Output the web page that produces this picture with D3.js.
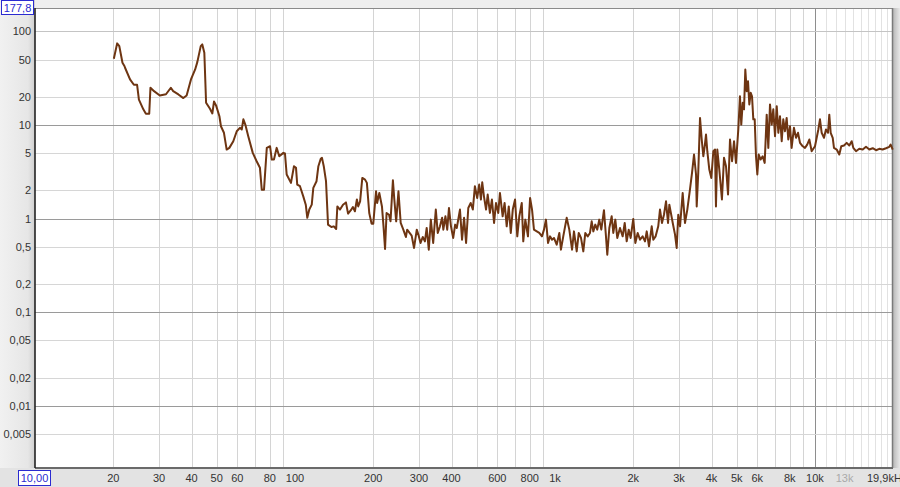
<!DOCTYPE html>
<html><head><meta charset="utf-8">
<script src="https://cdn.jsdelivr.net/npm/d3@7/dist/d3.min.js"></script>
<style>html,body{margin:0;padding:0;background:#ebebeb;overflow:hidden}svg{display:block}</style>
</head><body>
<svg id="c" width="900" height="487"></svg>
<script>
// ---- data ----
const freqHz = [
 20.1,20.7,21.1,21.7,22.1,22.2,23.2,24.0,24.7,25.1,26.1,26.7,27.5,27.8,28.7,30.2,31.9,33.3,34.0,35.6,
 37.2,38.3,39.8,41.3,42.1,43.4,44.0,44.8,45.5,47.1,48.1,48.8,49.7,51.2,51.9,53.3,54.6,55.9,57.9,59.7,
 61.4,62.4,63.3,64.4,66.1,68.8,71.2,73.3,74.5,76.0,77.9,80.2,81.4,83.0,85.0,87.0,90.2,91.5,92.9,96.5,
 99.1,100.9,102,104.5,107.6,
 110,111.5,113.5,116,117.6,121,123,125.6,127,129,
 131.6,134,138,141,144,145.5,149,153,157,160,
 164,167,170,173,175,178,181.5,186,189,193,
 197,200,205,207,211,216,219,222,225,230,
 233,238,241,245,250,255,261,267,270,275,
 281,287,294,299,304,310,316,321,327,333,
 340,348,354,361,368,372,379,385,391,398,
 406,413,419,431,439,447,455,464,
 474,483,492,502,511,519,525,533,543,551,
 562,572,583,593,605,614,629,640,652,664,
 676,688,702,716,729,745,755,769,787,802,
 816,830,851,870,891,907,923,940,957,974,
 991,1015,1039,1054,1076,1109,1135,1163,1183,1212,
 1234,1259,1285,1308,1336,1363,1384,1404,1429,1454,
 1480,1507,1543,1567,1589,1618,1652,1676,1706,1736,
 1778,1821,1854,1887,1921,1954,2000,2037,2080,2123,
 2173,2219,2253,2299,2355,2388,2438,2495,2534,2579,
 2625,2673,2721,2753,
 2837,2895,2938,2979,3026,3098,3162,3228,3304,3365,
 3425,3487,3508,3556,3612,3667,3719,3765,3809,3853,
 3922,3993,4064,4125,4160,4210,4285,4386,4467,4547,
 4629,4711,4797,4882,4967,5070,5145,5205,5272,5333,
 5395,5462,5525,5590,5659,5725,5791,5862,5930,6000,
 6075,6180,6291,6404,6520,6614,6714,6815,6912,7018,
 7125,7228,7335,7447,7551,7668,7780,7893,8015,8130,
 8300,8453,8603,8757,8970,9150,9333,9510,9710,10000,
 10300,10450,10610,10830,11020,11220,11350,11490,11700,11830,
 12120,12400,12620,12930,13240,13550,13840,14040,14380,14800,
 15260,15710,16180,16670,17170,17670,18200,18750,19310,19540,19910
];
const magnitude = [
 51.1,74.5,69.6,46.2,42.5,40.9,30.7,26.9,26.9,18.7,14.7,13.2,13.2,25.0,23.0,20.7,21.3,25.0,23.0,21.2,
 19.4,20.7,30.7,39.2,47.0,69.6,72.6,59.2,17.3,14.9,13.3,17.8,16.2,12.4,9.7,8.26,5.47,5.70,6.71,8.58,
 9.33,8.95,11.5,10.1,7.59,5.04,4.10,3.49,2.04,2.04,5.70,5.93,4.28,4.28,5.70,4.64,5.04,4.96,2.96,2.41,
 3.63,3.49,2.31,2.22,1.73,
 1.41,1.02,1.25,1.41,2.13,2.51,3.63,4.35,4.46,3.63,
 2.51,0.863,0.815,0.827,0.776,1.35,1.25,1.41,1.49,1.13,
 1.23,1.33,1.20,1.60,1.35,1.53,2.72,2.61,2.41,1.15,
 0.884,0.884,1.96,1.47,1.88,1.35,0.827,0.474,1.15,1.10,
 0.936,2.57,1.60,0.936,1.96,0.899,0.763,0.637,0.763,0.714,
 0.658,0.486,0.763,0.658,0.550,0.637,0.572,0.795,0.466,0.976,
 0.550,1.25,0.703,0.827,1.02,0.763,1.06,0.763,1.30,0.827,
 0.622,0.863,0.795,1.25,0.596,1.02,0.550,1.30,
 1.47,1.25,2.22,1.66,2.31,1.60,2.44,1.73,1.25,1.81,
 1.15,1.60,0.899,1.47,1.15,1.88,1.06,1.47,0.827,1.35,
 0.703,1.25,1.60,0.647,1.06,1.47,0.572,0.976,0.647,1.66,
 1.25,0.763,0.731,0.703,0.647,0.763,0.976,0.550,0.647,0.596,
 0.622,0.527,0.703,0.466,0.647,1.02,0.763,0.466,0.731,0.447,
 0.703,0.622,0.447,0.703,0.647,0.703,0.936,0.731,0.863,0.763,
 0.976,0.763,1.23,0.703,0.412,0.795,1.06,0.703,0.976,0.622,
 0.795,0.647,0.899,0.572,0.763,0.622,0.993,0.550,0.703,0.596,
 0.647,0.572,0.731,0.506,0.827,0.596,0.647,0.827,1.25,0.899,
 1.10,1.53,0.899,1.41,
 0.899,0.674,0.486,1.10,0.827,1.88,0.899,1.25,2.04,3.08,
 4.84,2.96,1.35,3.08,11.9,7.0,4.64,5.93,7.91,5.25,
 3.34,2.72,5.25,5.47,1.35,5.47,3.34,1.60,4.46,3.63,
 1.81,7.0,4.10,6.71,3.94,8.95,20.3,10.1,17.3,14.7,
 39.2,23.0,29.4,16.6,22.1,20.3,11.5,11.5,4.64,2.96,
 4.84,4.28,4.64,3.94,12.9,5.70,16.6,10.1,14.7,7.59,
 15.9,8.26,12.4,6.71,11.5,8.58,11.9,7.0,9.7,5.70,
 9.33,7.30,8.26,6.45,5.93,5.70,6.18,7.0,5.25,5.93,
 8.95,11.5,8.26,7.30,8.95,8.26,12.9,8.26,7.30,5.70,
 5.47,4.84,5.93,6.04,6.45,6.04,6.71,5.70,5.25,5.57,
 5.47,5.85,5.47,5.65,5.38,5.57,5.47,5.65,5.85,6.18,5.47
];
const xDomain = [10, 19953];
const yDomain = [0.00217, 177.8];
const yTicks = [100, 50, 20, 10, 5, 2, 1, 0.5, 0.2, 0.1, 0.05, 0.02, 0.01, 0.005];
const yTickLabels = ["100","50","20","10","5","2","1","0,5","0,2","0,1","0,05","0,02","0,01","0,005"];
const yMajor = [10, 1, 0.1, 0.01];
const xTickValues = [20,30,40,50,60,80,100,200,300,400,600,800,1000,2000,3000,4000,5000,6000,8000,10000,13000];
const xTickLabels = ["20","30","40","50","60","80","100","200","300","400","600","800","1k","2k","3k","4k","5k","6k","8k","10k","13k"];
const xMajor = [100, 1000, 10000];
const topLabel = "177,8";
const leftLabel = "10,00";
const rightLabel = "19,9kHz";

// ---- layout ----
const L = 35, R = 893, T = 8, B = 468;
const svg = d3.select("#c");
const x = d3.scaleLog().domain(xDomain).range([L, R]);
const y = d3.scaleLog().domain(yDomain).range([B, T]);

const defs = svg.append("defs");
const lg = defs.append("linearGradient").attr("id","lg").attr("x1","0").attr("x2","1").attr("y1","0").attr("y2","0");
lg.append("stop").attr("offset","0").attr("stop-color","#f1f1f1");
lg.append("stop").attr("offset","0.8").attr("stop-color","#e6e6e6");
lg.append("stop").attr("offset","1").attr("stop-color","#cfcfcf");
const rg = defs.append("linearGradient").attr("id","rg").attr("x1","0").attr("x2","1");
rg.append("stop").attr("offset","0").attr("stop-color","#b8b8b8");
rg.append("stop").attr("offset","1").attr("stop-color","#e8e8e8");

svg.append("rect").attr("x",0).attr("y",0).attr("width",900).attr("height",487).attr("fill","#eeeeee");
svg.append("rect").attr("x",0).attr("y",0).attr("width",L).attr("height",487).attr("fill","url(#lg)");
svg.append("rect").attr("x",0).attr("y",B).attr("width",900).attr("height",487-B).attr("fill","#e3e3e3");
svg.append("rect").attr("x",R).attr("y",T).attr("width",7).attr("height",B-T).attr("fill","url(#rg)");
svg.append("rect").attr("x",L).attr("y",T).attr("width",R-L).attr("height",B-T).attr("fill","#ffffff");

// vertical grid
const vgrid = [];
for (let d = 10; d < 10000; d *= 10) for (let k = 2; k <= 9; k++) vgrid.push(d*k);
vgrid.push(10000);
for (let k = 11; k <= 19; k++) vgrid.push(k*1000);
const g = svg.append("g");
g.selectAll("line.v").data(vgrid).join("line")
  .attr("x1", d => Math.round(x(d))+0.5).attr("x2", d => Math.round(x(d))+0.5)
  .attr("y1", T).attr("y2", B)
  .attr("stroke", d => xMajor.includes(d) ? "#8e8e8e" : (d > 10000 ? "#e2e2e2" : "#d4d4d4"))
  .attr("stroke-width", 1);
// horizontal grid
g.selectAll("line.h").data(yTicks).join("line")
  .attr("x1", L).attr("x2", R)
  .attr("y1", d => Math.round(y(d))+0.5).attr("y2", d => Math.round(y(d))+0.5)
  .attr("stroke", d => yMajor.includes(d) ? "#9a9a9a" : (d === 100 ? "#c4c4c4" : "#d6d6d6"))
  .attr("stroke-width", d => yMajor.includes(d) ? 1.1 : 1.2);

// frame
svg.append("line").attr("x1",L).attr("x2",R).attr("y1",T+0.5).attr("y2",T+0.5).attr("stroke","#8a8a8a");
svg.append("line").attr("x1",R-0.5).attr("x2",R-0.5).attr("y1",T).attr("y2",B).attr("stroke","#7a7a7a").attr("stroke-width",1.5);
svg.append("line").attr("x1",L).attr("x2",R).attr("y1",B).attr("y2",B).attr("stroke","#6a6a6a").attr("stroke-width",2);
svg.append("line").attr("x1",L).attr("x2",L).attr("y1",T).attr("y2",B).attr("stroke","#222").attr("stroke-width",1.6);

// curve
const pts = d3.zip(freqHz, magnitude);
svg.append("path").datum(pts)
  .attr("fill","none").attr("stroke","#6e3512").attr("stroke-width",2).attr("stroke-linejoin","round")
  .attr("d", d3.line().x(d => x(d[0])).y(d => y(d[1])));

// labels
const font = "'Liberation Sans', Arial, sans-serif";
svg.append("g").selectAll("text").data(yTicks).join("text")
  .attr("x", 31).attr("y", d => y(d) + 4)
  .attr("text-anchor","end").attr("font-family",font).attr("font-size",11).attr("fill","#333")
  .text((d,i) => yTickLabels[i]);
svg.append("g").selectAll("text").data(xTickValues).join("text")
  .attr("x", d => x(d)).attr("y", 482)
  .attr("text-anchor","middle").attr("font-family",font).attr("font-size",11)
  .attr("fill", d => d === 13000 ? "#aaaaaa" : "#333")
  .text((d,i) => xTickLabels[i]);
svg.append("text").attr("x", 867).attr("y", 482).attr("font-family",font).attr("font-size",11).attr("fill","#333").text(rightLabel);

// boxed range labels
svg.append("rect").attr("x",1.5).attr("y",0.5).attr("width",32).attr("height",14).attr("fill","#fff").attr("stroke","#2b2bd0");
svg.append("text").attr("x",17.5).attr("y",12).attr("text-anchor","middle").attr("font-family",font).attr("font-size",11).attr("fill","#2b2bd0").text(topLabel);
svg.append("rect").attr("x",18.5).attr("y",470.5).attr("width",32).attr("height",15).attr("fill","#fff").attr("stroke","#2b2bd0");
svg.append("text").attr("x",34.5).attr("y",482).attr("text-anchor","middle").attr("font-family",font).attr("font-size",11).attr("fill","#2b2bd0").text(leftLabel);
</script>
</body></html>
